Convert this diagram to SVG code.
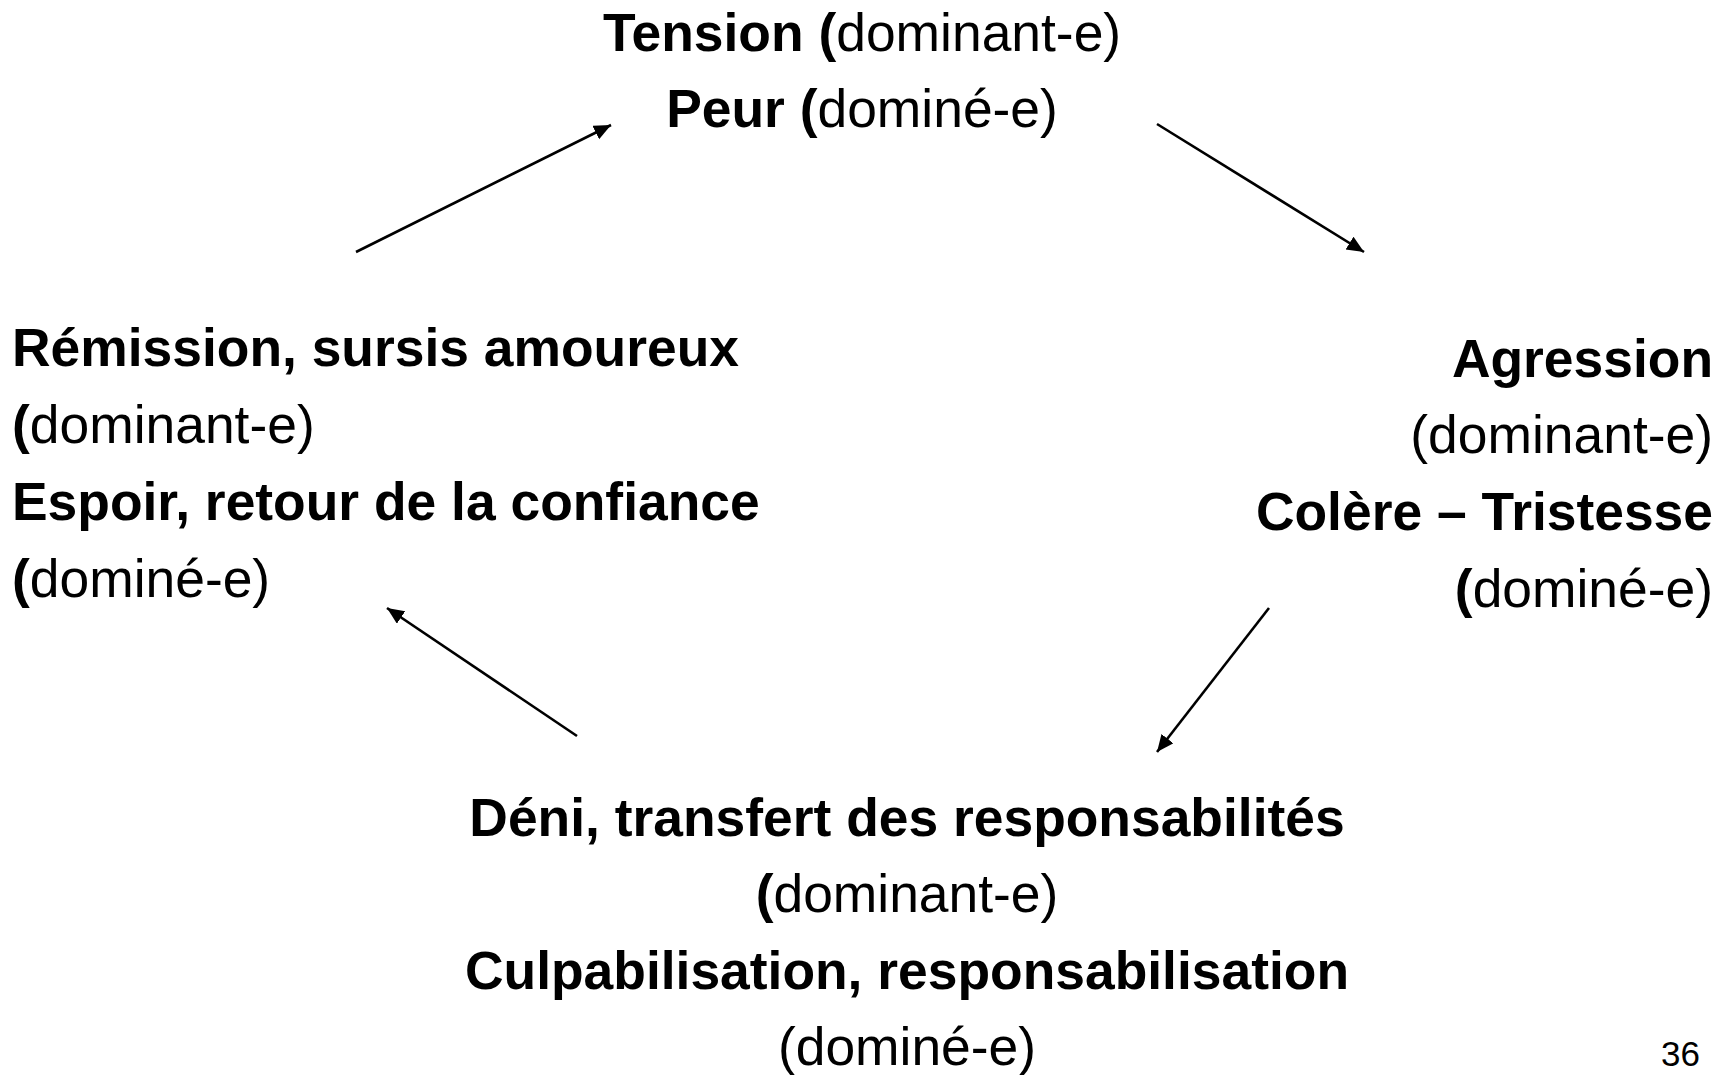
<svg xmlns="http://www.w3.org/2000/svg" width="1730" height="1075" viewBox="0 0 1730 1075">
<style>
text{font-family:"Liberation Sans",Arial,sans-serif;font-size:53.4px;fill:#000}
.b{font-weight:bold}
.c{text-anchor:middle}
.e{text-anchor:end}
.conn line{stroke:#000;stroke-width:2.6;fill:none}
</style>
<defs>
<marker id="ah" markerUnits="userSpaceOnUse" markerWidth="18" markerHeight="16" refX="17" refY="7.5" orient="auto">
<path d="M0,0 L17,7.5 L0,15 z" fill="#000"/>
</marker>
</defs>
<rect width="1730" height="1075" fill="#fff"/>
<g id="node-tension">
<text class="c" x="862" y="51"><tspan class="b">Tension (</tspan>dominant-e)</text>
<text class="c" x="862" y="127"><tspan class="b">Peur (</tspan>dominé-e)</text>
</g>
<g id="node-agression">
<text class="e b" x="1713" y="377">Agression</text>
<text class="e" x="1713" y="453">(dominant-e)</text>
<text class="e b" x="1713" y="530">Colère – Tristesse</text>
<text class="e" x="1713" y="607"><tspan class="b">(</tspan>dominé-e)</text>
</g>
<g id="node-deni">
<text class="c b" x="907" y="836">Déni, transfert des responsabilités</text>
<text class="c" x="907" y="912"><tspan class="b">(</tspan>dominant-e)</text>
<text class="c b" x="907" y="989">Culpabilisation, responsabilisation</text>
<text class="c" x="907" y="1065">(dominé-e)</text>
</g>
<g id="node-remission">
<text class="b" x="12" y="366">Rémission, sursis amoureux</text>
<text x="12" y="443"><tspan class="b">(</tspan>dominant-e)</text>
<text class="b" x="12" y="520">Espoir, retour de la confiance</text>
<text x="12" y="597"><tspan class="b">(</tspan>dominé-e)</text>
</g>
<g id="page-number">
<text x="1700" y="1066" class="e" style="font-size:35px">36</text>
</g>
<g id="connectors" class="conn">
<line x1="356" y1="252" x2="611" y2="125" marker-end="url(#ah)"/>
<line x1="1157" y1="124" x2="1364" y2="252" marker-end="url(#ah)"/>
<line x1="1269" y1="608" x2="1157" y2="752" marker-end="url(#ah)"/>
<line x1="577" y1="736" x2="387" y2="608" marker-end="url(#ah)"/>
</g>
</svg>
